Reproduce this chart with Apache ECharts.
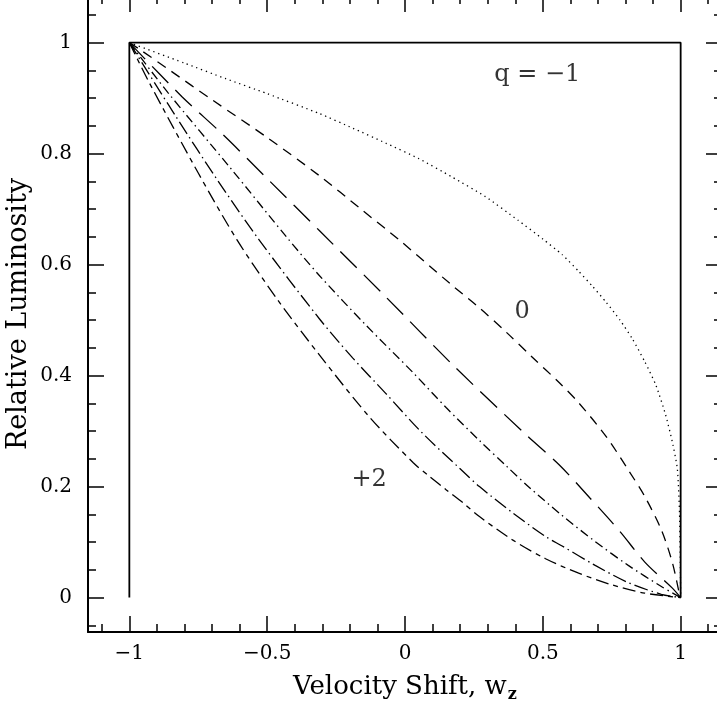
<!DOCTYPE html>
<html>
<head>
<meta charset="utf-8">
<script src="https://cdn.jsdelivr.net/npm/echarts@6/dist/echarts.min.js"></script>
<style>
  html, body { margin: 0; padding: 0; background: #fff; }
  #chart { width: 717px; height: 709px; }
</style>
</head>
<body>
<div id="chart"></div>
<script>
// axis ticks
const xMajor = [-1, -0.5, 0, 0.5, 1];
const xMinor = [-1.1, -1, -0.9, -0.8, -0.7, -0.6, -0.5, -0.4, -0.3, -0.2, -0.1, 0, 0.1, 0.2, 0.3, 0.4, 0.5, 0.6, 0.7, 0.8, 0.9, 1, 1.1];
const yMajor = [0, 0.2, 0.4, 0.6, 0.8, 1];
const yMinor = [-0.05, 0, 0.05, 0.1, 0.15, 0.2, 0.25, 0.3, 0.35, 0.4, 0.45, 0.5, 0.55, 0.6, 0.65, 0.7, 0.75, 0.8, 0.85, 0.9, 0.95, 1, 1.05];

// profiles [w_z, relative luminosity]
const boxProfile = [[-1, 0], [-1, 1], [1, 1], [1, 0]];
const qMinus1 = [[-1, 1], [-0.8, 0.963], [-0.65, 0.935], [-0.5, 0.908], [-0.31, 0.872], [-0.19, 0.846], [-0.07, 0.819], [0.05, 0.791], [0.17, 0.758], [0.29, 0.723], [0.41, 0.68], [0.5, 0.646], [0.57, 0.618], [0.63, 0.588], [0.68, 0.561], [0.73, 0.532], [0.78, 0.5], [0.825, 0.466], [0.87, 0.425], [0.91, 0.383], [0.945, 0.33], [0.97, 0.28], [0.988, 0.232], [0.996, 0.15], [1, 0]];
const q0 = [[-1, 1], [-0.96, 0.987], [-0.85, 0.949], [-0.7, 0.897], [-0.5, 0.829], [-0.31, 0.76], [-0.16, 0.7], [-0.02, 0.644], [0.17, 0.563], [0.27, 0.522], [0.37, 0.477], [0.46, 0.434], [0.56, 0.387], [0.63, 0.351], [0.73, 0.29], [0.81, 0.23], [0.87, 0.182], [0.93, 0.122], [0.97, 0.063], [0.995, 0.008], [1, 0]];
const qC = [[-1, 1], [-0.81, 0.903], [-0.66, 0.834], [-0.49, 0.75], [-0.31, 0.661], [-0.07, 0.542], [0.18, 0.416], [0.44, 0.293], [0.56, 0.239], [0.67, 0.18], [0.78, 0.119], [0.87, 0.064], [0.97, 0.017], [1, 0]];
const qD = [[-1, 1], [-0.86, 0.91], [-0.63, 0.772], [-0.43, 0.65], [-0.31, 0.58], [-0.14, 0.49], [0.03, 0.405], [0.15, 0.342], [0.27, 0.283], [0.37, 0.236], [0.45, 0.199], [0.57, 0.148], [0.69, 0.101], [0.81, 0.058], [0.93, 0.02], [1, 0]];
const qE = [[-1, 1], [-0.83, 0.866], [-0.68, 0.752], [-0.53, 0.645], [-0.31, 0.502], [-0.19, 0.432], [-0.07, 0.368], [0.06, 0.298], [0.2, 0.232], [0.27, 0.2], [0.39, 0.153], [0.51, 0.11], [0.57, 0.093], [0.69, 0.058], [0.81, 0.027], [0.93, 0.006], [1, 0]];
const qPlus2 = [[-1, 1], [-0.93, 0.93], [-0.75, 0.765], [-0.61, 0.645], [-0.46, 0.535], [-0.31, 0.437], [-0.13, 0.326], [0.03, 0.243], [0.09, 0.218], [0.15, 0.194], [0.21, 0.171], [0.27, 0.146], [0.39, 0.104], [0.51, 0.07], [0.63, 0.044], [0.75, 0.023], [0.87, 0.008], [1, 0]];

// curve labels [w_z, luminosity, text]
const notes = [[0.48, 0.942, 'q = −1'], [0.425, 0.515, '0'], [-0.13, 0.212, '+2']];

const FONT = '"DejaVu Serif", "Liberation Serif", serif';
const fmt = (v) => String(v).replace('-', '−');

const chart = echarts.init(document.getElementById('chart'));

function xAx(pos, values, len, lineOn, extra) {
  return Object.assign({
    type: 'value', position: pos, min: -1.15, max: 1.15,
    axisLine: { show: lineOn, onZero: false, lineStyle: { color: '#000', width: 2 } },
    axisTick: { show: true, inside: true, length: len, customValues: values, lineStyle: { color: '#000', width: 1.5 } },
    axisLabel: { show: false },
    splitLine: { show: false }
  }, extra || {});
}
function yAx(pos, values, len, lineOn, extra) {
  return Object.assign({
    type: 'value', position: pos, min: -0.062, max: 1.084,
    axisLine: { show: lineOn, onZero: false, lineStyle: { color: '#000', width: 2 } },
    axisTick: { show: true, inside: true, length: len, customValues: values, lineStyle: { color: '#000', width: 1.5 } },
    axisLabel: { show: false },
    splitLine: { show: false }
  }, extra || {});
}

function curve(data, dash, width, smooth) {
  return {
    type: 'line', data: data, symbol: 'none', smooth: smooth === undefined ? 0.3 : smooth,
    silent: true, animation: false,
    lineStyle: { color: '#000', width: width || 1.3, type: dash }
  };
}

const option = {
  animation: false,
  backgroundColor: '#fff',
  grid: { left: 88, right: -5, top: -4, bottom: 77, outerBoundsMode: 'none', containLabel: false },
  xAxis: [
    xAx('bottom', xMajor, 16, true, {
      name: 'Velocity Shift, w{sub|z}',
      nameLocation: 'middle', nameGap: 40, nameMoveOverlap: false,
      nameTextStyle: {
        fontFamily: FONT, fontSize: 26, color: '#000',
        rich: { sub: { fontFamily: FONT, fontSize: 16, fontWeight: 'bold', color: '#000', padding: [15, 0, 0, 1] } }
      },
      axisLabel: {
        show: true, customValues: xMajor, margin: 12, formatter: fmt,
        fontFamily: FONT, fontSize: 20, color: '#000'
      }
    }),
    xAx('bottom', xMinor, 8, false),
    xAx('top', xMajor, 16, true),
    xAx('top', xMinor, 8, false)
  ],
  yAxis: [
    yAx('left', yMajor, 16, true, {
      name: 'Relative Luminosity',
      nameLocation: 'middle', nameGap: 56, nameRotate: 90, nameMoveOverlap: false,
      nameTextStyle: { fontFamily: FONT, fontSize: 27, color: '#000' },
      axisLabel: {
        show: true, customValues: yMajor, margin: 16, formatter: fmt,
        fontFamily: FONT, fontSize: 20, color: '#000'
      }
    }),
    yAx('left', yMinor, 8, false),
    yAx('right', yMajor, 16, true),
    yAx('right', yMinor, 8, false)
  ],
  series: [
    curve(boxProfile, 'solid', 1.8, false),
    curve(qMinus1, [1.3, 3.8], 1.3, 0.2),
    curve(q0, [10, 7]),
    curve(qC, [23, 10]),
    curve(qD, [9, 4, 1.5, 4]),
    curve(qE, [14, 4, 1.5, 4]),
    curve(qPlus2, [13, 5, 5, 5]),
    {
      type: 'scatter', data: notes, symbolSize: 0, silent: true,
      label: {
        show: true, position: 'inside', formatter: (p) => p.value[2],
        fontFamily: FONT, fontSize: 24, color: '#000'
      }
    }
  ]
};

chart.setOption(option);
</script>
</body>
</html>
